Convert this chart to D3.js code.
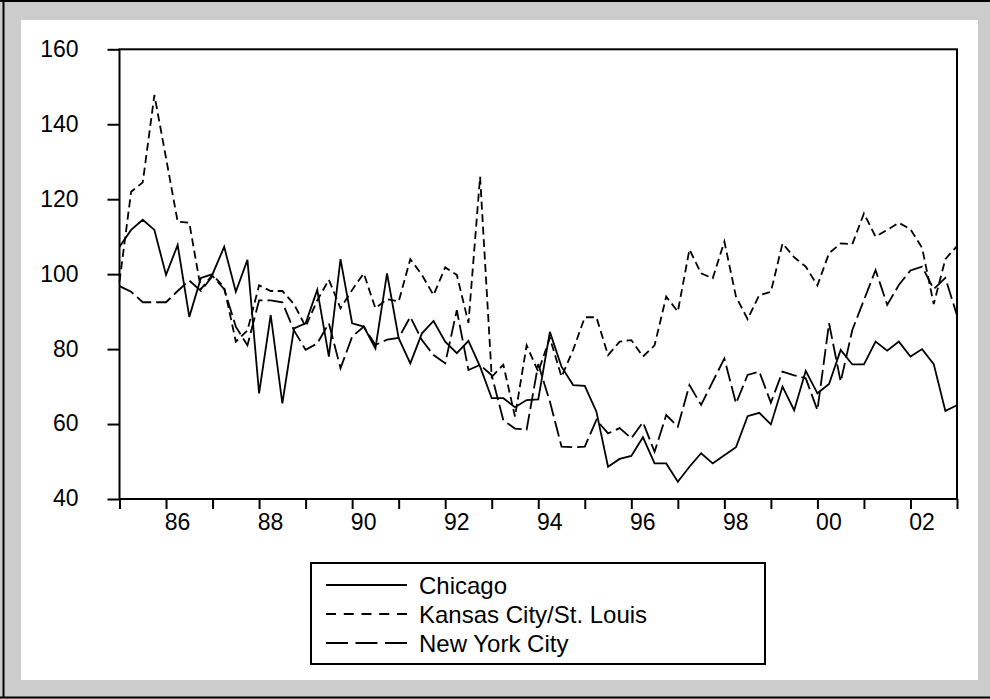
<!DOCTYPE html>
<html>
<head>
<meta charset="utf-8">
<script src="https://cdn.jsdelivr.net/npm/d3@7"></script>
<style>
  html, body { margin: 0; padding: 0; background: #fff; }
  svg { display: block; }
  text { font-family: "Liberation Sans", Arial, Helvetica, sans-serif; fill: #000; }
</style>
</head>
<body>
<svg id="chart" width="990" height="699"></svg>
<script>
// Quarterly index series, 1985Q1 – 2003Q1
const startYear = 1985;
const chicago = [
  107.3, 111.8, 114.5, 111.8, 99.8, 107.8, 88.6, 99.0,
  100.0, 107.3, 95.3, 103.8, 68.2, 89.1, 65.5, 85.5,
  86.9, 95.8, 78.0, 104.0, 86.9, 86.0, 80.2, 100.2,
  82.9, 76.2, 84.2, 87.5, 82.0, 78.9, 82.2, 75.3,
  66.9, 66.9, 64.5, 66.4, 66.6, 84.6, 75.3, 70.4,
  70.2, 63.3, 48.6, 50.7, 51.5, 56.5, 49.5, 49.5,
  44.6, 48.6, 52.2, 49.5, 51.7, 53.8, 62.1, 63.0,
  59.9, 70.0, 63.7, 74.2, 68.2, 70.7, 79.8, 75.9,
  75.9, 82.0, 79.6, 82.0, 78.0, 80.0, 76.0, 63.5,
  65.0
];
const kansasCityStLouis = [
  98.0, 122.0, 124.5, 147.8, 131.0, 114.0, 113.7, 96.0,
  99.8, 96.5, 82.0, 85.0, 97.0, 95.5, 95.5, 92.0,
  86.0, 93.0, 98.5, 90.9, 95.8, 100.2, 90.9, 93.3,
  92.7, 104.0, 99.8, 94.4, 101.8, 99.8, 87.0, 126.0,
  72.6, 75.8, 62.0, 81.0, 74.0, 83.0, 72.6, 79.8,
  88.5, 88.5, 78.4, 82.0, 82.4, 78.0, 81.0, 94.0,
  90.0, 106.6, 100.2, 98.9, 108.7, 94.0, 88.0, 94.4,
  95.3, 108.2, 104.5, 102.0, 97.0, 105.6, 108.2, 108.0,
  116.2, 110.0, 111.8, 113.7, 112.0, 107.0, 92.0, 104.0,
  107.5
];
const newYorkCity = [
  96.8, 95.3, 92.5, 92.5, 92.5, 95.5, 98.3, 95.5,
  99.5, 96.0, 86.0, 81.0, 93.0, 93.0, 92.5, 85.0,
  79.8, 81.5, 86.9, 74.9, 83.3, 86.0, 81.1, 82.5,
  83.0, 88.6, 82.4, 78.4, 76.2, 90.4, 74.4, 75.8,
  73.0, 61.0, 58.8, 58.5, 76.0, 66.0, 54.0, 53.8,
  54.0, 61.1, 57.5, 58.9, 56.2, 60.5, 52.6, 62.4,
  59.3, 70.4, 65.1, 71.3, 77.5, 65.5, 73.1, 74.0,
  65.7, 74.0, 73.0, 72.2, 63.7, 86.9, 71.3, 85.1,
  93.1, 101.1, 91.8, 97.1, 101.0, 102.0, 96.0, 99.0,
  89.0
];
const seriesNames = ["Chicago", "Kansas City/St. Louis", "New York City"];
const tickYears = [1985, 1986, 1987, 1988, 1989, 1990, 1991, 1992, 1993, 1994,
                   1995, 1996, 1997, 1998, 1999, 2000, 2001, 2002, 2003];
const yearLabels = ["", "86", "", "88", "", "90", "", "92", "", "94",
                    "", "96", "", "98", "", "00", "", "02", ""];
const yTicks = [40, 60, 80, 100, 120, 140, 160];

const svg = d3.select("#chart");
const W = 990, H = 699;

// Grey outer frame with a white panel
svg.append("rect").attr("x", 0).attr("y", 0).attr("width", W).attr("height", H).attr("fill", "#cccccc");
svg.append("rect").attr("x", 21).attr("y", 20).attr("width", 957).attr("height", 660).attr("fill", "#ffffff");
const edge = svg.append("g").attr("stroke", "#000").attr("stroke-width", 2);
edge.append("line").attr("x1", 0).attr("x2", W).attr("y1", 1).attr("y2", 1);
edge.append("line").attr("x1", 3.5).attr("x2", 3.5).attr("y1", 0).attr("y2", 698);
edge.append("line").attr("x1", 0).attr("x2", W).attr("y1", 697.5).attr("y2", 697.5);

const plot = { left: 119.5, right: 957, top: 49.3, bottom: 499 };

const x = d3.scaleLinear().domain([1985, 2003]).range([plot.left, plot.right]);
const y = d3.scaleLinear().domain([40, 160]).range([plot.bottom, plot.top]);

const periods = chicago.map((_, i) => startYear + i / 4);

// Axes
const yAxis = d3.axisLeft(y).tickValues(yTicks).tickSize(12).tickPadding(29).tickFormat(d3.format("d"));
const gy = svg.append("g").attr("transform", `translate(${plot.left},0)`).call(yAxis);
gy.select(".domain").remove();
gy.selectAll(".tick line").attr("stroke", "#000").attr("stroke-width", 2);
gy.selectAll(".tick text").attr("font-size", 23).attr("dy", "0.3em");

const xAxis = d3.axisBottom(x).tickValues(tickYears).tickSize(10).tickPadding(5)
  .tickFormat((d, i) => yearLabels[i]);
const gx = svg.append("g").attr("transform", `translate(0,${plot.bottom})`).call(xAxis);
gx.select(".domain").remove();
gx.selectAll(".tick line").attr("stroke", "#000").attr("stroke-width", 2);
gx.selectAll(".tick text").attr("font-size", 23).attr("dx", 11);

// Plot frame
svg.append("rect")
  .attr("x", plot.left).attr("y", plot.top)
  .attr("width", plot.right - plot.left).attr("height", plot.bottom - plot.top)
  .attr("fill", "none").attr("stroke", "#000").attr("stroke-width", 2);

// Lines
const styles = [
  { data: chicago, dash: null },
  { data: kansasCityStLouis, dash: "8,4.5" },
  { data: newYorkCity, dash: "16,5" }
];
const line = d3.line().x((d, i) => x(periods[i])).y(d => y(d));
const lines = svg.append("g");
styles.forEach(s => {
  lines.append("path")
    .attr("d", line(s.data))
    .attr("fill", "none")
    .attr("stroke", "#000")
    .attr("stroke-width", 1.8)
    .attr("stroke-linejoin", "miter")
    .attr("stroke-dasharray", s.dash);
});

// Legend
const legend = svg.append("g");
legend.append("rect").attr("x", 311).attr("y", 563).attr("width", 454).attr("height", 101)
  .attr("fill", "#fff").attr("stroke", "#000").attr("stroke-width", 2);
const legendDash = [null, "10,7.75", "22,7.5"];
seriesNames.forEach((name, i) => {
  const ly = 585 + i * 29;
  legend.append("line").attr("x1", 326).attr("x2", 407).attr("y1", ly).attr("y2", ly)
    .attr("stroke", "#000").attr("stroke-width", 1.8).attr("stroke-dasharray", legendDash[i]);
  legend.append("text").attr("x", 419).attr("y", ly + 8.5).attr("font-size", 24).text(name);
});
</script>
</body>
</html>
